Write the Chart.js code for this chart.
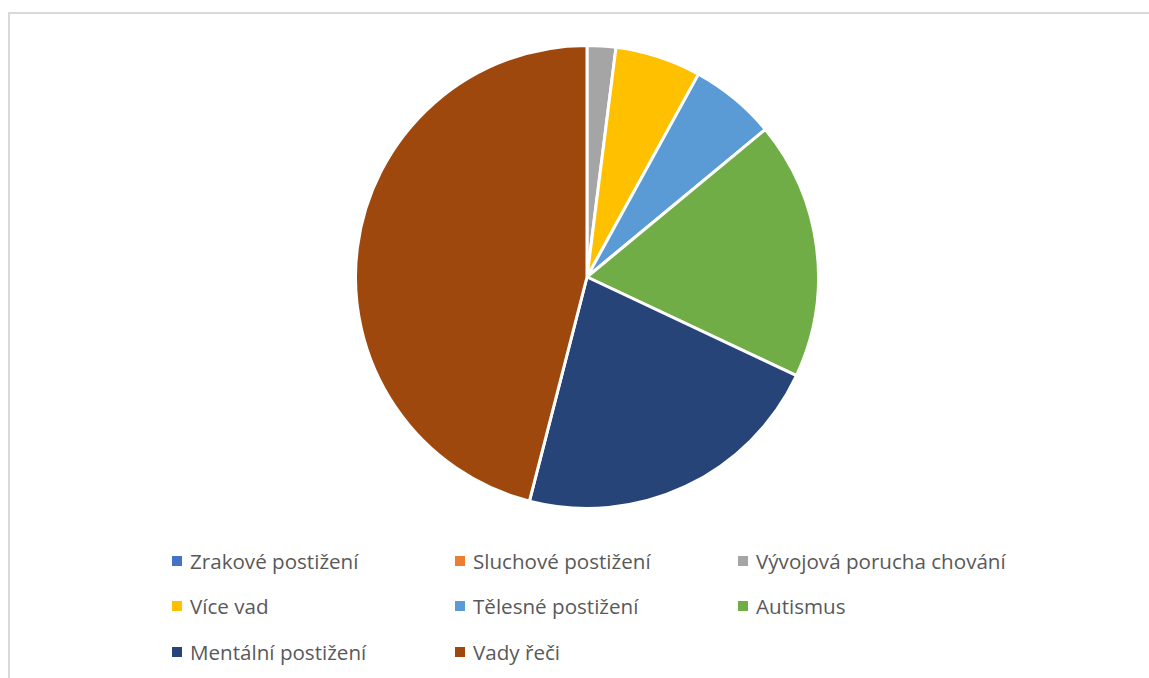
<!DOCTYPE html>
<html>
<head>
<meta charset="utf-8">
<script src="https://cdn.jsdelivr.net/npm/chart.js@4"></script>
<style>
  html, body { margin: 0; padding: 0; background: #fff; overflow: hidden; }
  body { width: 1149px; height: 678px; position: relative; }
  #frame { position: absolute; left: 8px; top: 12px; width: 1200px; height: 700px;
           border-top: 2px solid #d9d9d9; border-left: 2px solid #d9d9d9; }
  #wrap { position: absolute; left: 352px; top: 42px; width: 470px; height: 470px; }
  #legend { position: absolute; left: 172px; top: 538px; display: grid;
            grid-template-columns: 283px 283px 320px; grid-auto-rows: 45.5px;
            font-family: "Open Sans", Lato, sans-serif; font-size: 20.6px; color: #595959; }
  .item { display: flex; align-items: center; white-space: nowrap; }
  .box { width: 10px; height: 10px; margin-right: 8px; flex: none; }
</style>
</head>
<body>
<div id="frame"></div>
<div id="wrap"><canvas id="myPieChart"></canvas></div>
<div id="legend"></div>
<script>
// Dữ liệu biểu đồ
var labels = ['Zrakové postižení', 'Sluchové postižení', 'Vývojová porucha chování',
              'Více vad', 'Tělesné postižení', 'Autismus', 'Mentální postižení', 'Vady řeči'];
var values = [0, 0, 1, 3, 3, 9, 11, 23];
var colors = ['#4472C4', '#ED7D31', '#A5A5A5', '#FFC000', '#5B9BD5', '#70AD47', '#264478', '#9E480E'];

var ctx = document.getElementById('myPieChart').getContext('2d');

var myPieChart = new Chart(ctx, {
    type: 'pie',
    data: {
        labels: labels,
        datasets: [{
            data: values,
            backgroundColor: colors,
            borderColor: '#ffffff',
            borderWidth: 3
        }]
    },
    options: {
        responsive: true,
        maintainAspectRatio: false,
        animation: false,
        layout: { padding: 2 },
        plugins: {
            legend: { display: false },
            tooltip: { enabled: false }
        }
    }
});

// Chú thích dạng lưới 3 cột
var legend = document.getElementById('legend');
myPieChart.legend.legendItems.forEach(function (item) {
    var div = document.createElement('div');
    div.className = 'item';
    var box = document.createElement('span');
    box.className = 'box';
    box.style.background = item.fillStyle;
    var txt = document.createElement('span');
    txt.textContent = item.text;
    div.appendChild(box);
    div.appendChild(txt);
    legend.appendChild(div);
});
</script>
</body>
</html>
